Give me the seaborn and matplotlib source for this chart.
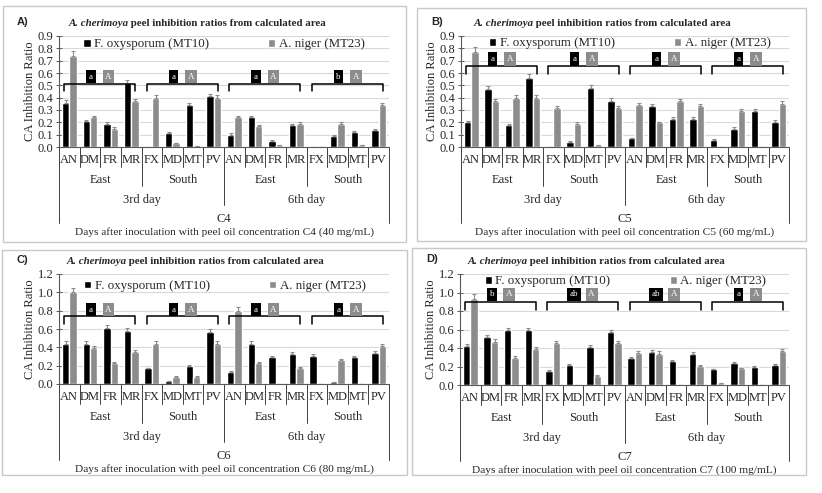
import numpy as np
import pandas as pd
import matplotlib
matplotlib.use("Agg")
import matplotlib.pyplot as plt
import seaborn as sns
from matplotlib.patches import Rectangle
from matplotlib.transforms import blended_transform_factory

sns.set_theme(style="white")
plt.rcParams['font.family'] = ['Liberation Serif', 'DejaVu Serif']

# categorie dell'asse x
sites = ["AN", "DM", "FR", "MR", "FX", "MD", "MT", "PV"] * 2
regions = ["East", "South", "East", "South"]
days = ["3rd day", "6th day"]
series = ["F. oxysporum (MT10)", "A. niger (MT23)"]

# C4 (40 mg/mL)
c4_fox = [0.36, 0.21, 0.19, 0.52, 0.00, 0.11, 0.34, 0.41, 0.10, 0.24, 0.05, 0.18, 0.00, 0.09, 0.12, 0.14]
c4_fox_err = [0.02, 0.01, 0.01, 0.025, 0.0, 0.01, 0.02, 0.02, 0.01, 0.015, 0.005, 0.01, 0.0, 0.01, 0.01, 0.01]
c4_ani = [0.74, 0.24, 0.15, 0.37, 0.40, 0.03, 0.01, 0.40, 0.24, 0.17, 0.015, 0.19, 0.00, 0.19, 0.015, 0.34]
c4_ani_err = [0.04, 0.015, 0.01, 0.02, 0.02, 0.005, 0.0, 0.02, 0.015, 0.01, 0.0, 0.01, 0.0, 0.01, 0.0, 0.02]
c4_fox_letters = ["a", "a", "a", "b"]
c4_ani_letters = ["A", "A", "A", "A"]

# C5 (60 mg/mL)
c5_fox = [0.20, 0.47, 0.18, 0.56, 0.00, 0.04, 0.48, 0.37, 0.07, 0.33, 0.23, 0.23, 0.06, 0.15, 0.29, 0.20]
c5_fox_err = [0.01, 0.025, 0.01, 0.03, 0.0, 0.005, 0.025, 0.025, 0.005, 0.015, 0.01, 0.015, 0.005, 0.01, 0.015, 0.015]
c5_ani = [0.77, 0.37, 0.40, 0.40, 0.32, 0.19, 0.015, 0.32, 0.34, 0.20, 0.37, 0.33, 0.00, 0.29, 0.00, 0.35]
c5_ani_err = [0.04, 0.02, 0.02, 0.02, 0.015, 0.01, 0.0, 0.015, 0.02, 0.005, 0.02, 0.02, 0.0, 0.015, 0.0, 0.02]
c5_fox_letters = ["a", "a", "a", "a"]
c5_ani_letters = ["A", "A", "A", "A"]

# C6 (80 mg/mL)
c6_fox = [0.44, 0.44, 0.61, 0.58, 0.17, 0.03, 0.20, 0.57, 0.13, 0.44, 0.29, 0.33, 0.31, 0.02, 0.29, 0.34]
c6_fox_err = [0.025, 0.025, 0.03, 0.03, 0.01, 0.005, 0.01, 0.03, 0.01, 0.025, 0.015, 0.015, 0.02, 0.0, 0.02, 0.02]
c6_ani = [1.00, 0.39, 0.23, 0.35, 0.44, 0.08, 0.08, 0.44, 0.80, 0.23, 0.00, 0.18, 0.00, 0.26, 0.005, 0.41]
c6_ani_err = [0.05, 0.025, 0.015, 0.02, 0.025, 0.005, 0.005, 0.025, 0.045, 0.01, 0.0, 0.01, 0.0, 0.01, 0.0, 0.025]
c6_fox_letters = ["a", "a", "a", "a"]
c6_ani_letters = ["A", "A", "A", "A"]

# C7 (100 mg/mL)
c7_fox = [0.42, 0.52, 0.59, 0.59, 0.15, 0.22, 0.41, 0.57, 0.29, 0.36, 0.26, 0.34, 0.17, 0.24, 0.20, 0.22]
c7_fox_err = [0.02, 0.025, 0.03, 0.03, 0.01, 0.01, 0.025, 0.03, 0.015, 0.02, 0.01, 0.015, 0.005, 0.01, 0.01, 0.01]
c7_ani = [0.93, 0.47, 0.29, 0.39, 0.45, 0.00, 0.10, 0.45, 0.35, 0.34, 0.00, 0.21, 0.02, 0.18, 0.00, 0.37]
c7_ani_err = [0.05, 0.03, 0.02, 0.02, 0.025, 0.0, 0.005, 0.025, 0.02, 0.025, 0.0, 0.01, 0.0, 0.005, 0.0, 0.02]
c7_fox_letters = ["b", "ab", "ab", "a"]
c7_ani_letters = ["A", "A", "A", "A"]

W, H = 822, 493
fig = plt.figure(figsize=(W / 100, H / 100), dpi=100)
fig.patch.set_facecolor("white")

BLACK = "#000000"
GREY = "#8c8c8c"

# layout in pixel: (label, conc, mg, box, axes, title center, legend anchor, ymax, step, bracket y, drop, letter y)
panels = [
    ("A)", "C4", "40", c4_fox, c4_fox_err, c4_ani, c4_ani_err, c4_fox_letters, c4_ani_letters,
     (3, 6, 406, 242), (59, 36, 389, 147), (197, 24), (0.50, 0.925), 0.9, 0.1, 0.51, 0.055, 0.57),
    ("B)", "C5", "60", c5_fox, c5_fox_err, c5_ani, c5_ani_err, c5_fox_letters, c5_ani_letters,
     (417, 8, 806, 241), (461, 36, 789, 147), (602, 24), (0.515, 0.935), 0.9, 0.1, 0.66, 0.07, 0.715),
    ("C)", "C6", "80", c6_fox, c6_fox_err, c6_ani, c6_ani_err, c6_fox_letters, c6_ani_letters,
     (2, 250, 407, 475), (59, 274, 389, 384), (195, 262), (0.503, 0.89), 1.2, 0.2, 0.745, 0.095, 0.81),
    ("D)", "C7", "100", c7_fox, c7_fox_err, c7_ani, c7_ani_err, c7_fox_letters, c7_ani_letters,
     (412, 248, 806, 475), (460, 274, 789, 385), (596, 261), (0.503, 0.935), 1.2, 0.2, 0.90, 0.09, 0.98),
]

renderer = fig.canvas.get_renderer()
FS = 8.5


def draw_title(cx, cy):
    y = 1 - cy / H
    t1 = fig.text(0, y, "A. cherimoya", fontsize=7.8, fontweight="bold", fontstyle="italic", va="center")
    t2 = fig.text(0, y, " peel inhibition ratios from calculated area", fontsize=7.8, fontweight="bold", va="center")
    w1 = t1.get_window_extent(renderer).width
    w2 = t2.get_window_extent(renderer).width
    x0 = cx - (w1 + w2) / 2
    t1.set_x(x0 / W)
    t2.set_x((x0 + w1) / W)


for (lab, conc, mg, fox, fox_err, ani, ani_err, fl, al, box, axr, tc, lg,
     ymax, step, by, drop, ly) in panels:
    # bordo del pannello
    fig.patches.append(Rectangle((box[0] / W, 1 - box[3] / H), (box[2] - box[0]) / W, (box[3] - box[1]) / H,
                                 transform=fig.transFigure, fill=False, ec="#c8c8c8", lw=1.0))
    l, t, r, b = axr
    ax = fig.add_axes([l / W, 1 - b / H, (r - l) / W, (b - t) / H])
    hpx = b - t

    keys = [f"k{i:02d}" for i in range(16)]
    df = pd.DataFrame({"key": keys * 2, "ratio": fox + ani,
                       "strain": [series[0]] * 16 + [series[1]] * 16})
    sns.barplot(data=df, x="key", y="ratio", hue="strain", order=keys, hue_order=series,
                palette=[BLACK, GREY], width=0.72, errorbar=None, saturation=1, ax=ax)

    for cont, err in zip(ax.containers, [fox_err, ani_err]):
        xs = [p.get_x() + p.get_width() / 2 for p in cont]
        ys = [p.get_height() for p in cont]
        ax.errorbar(xs, ys, yerr=[np.zeros(16), err], fmt="none", ecolor="#8c8c8c",
                    elinewidth=0.8, capsize=1.6, capthick=0.8)

    ax.set_xlim(-0.5, 15.5)
    ax.set_ylim(0, ymax)
    ticks = np.round(np.arange(0, ymax + 1e-9, step), 2)
    ax.set_yticks(ticks)
    ax.set_yticklabels([f"{v:.1f}" for v in ticks], fontsize=FS + 0.5)
    ax.set_xticks([])
    ax.set_xlabel("")
    ax.set_ylabel("CA Inhibition Ratio", fontsize=FS + 0.5, labelpad=1)
    ax.yaxis.grid(True, color="#d9d9d9", lw=0.8)
    ax.set_axisbelow(True)
    for s in ["top", "right"]:
        ax.spines[s].set_visible(False)
    for s in ["left", "bottom"]:
        ax.spines[s].set_color("#595959")
        ax.spines[s].set_linewidth(0.8)
    ax.tick_params(axis="y", direction="inout", length=4, width=0.7, color="#595959", pad=2, left=True)

    # legenda
    handles, labels = ax.get_legend_handles_labels()
    ax.legend(handles, labels, loc="center", bbox_to_anchor=lg, ncol=2, frameon=False,
              fontsize=9.3, handlelength=0.55, handleheight=0.55, handletextpad=0.25,
              columnspacing=4.6, borderaxespad=0)

    # parentesi e lettere
    for g in range(4):
        x0, x1 = 4 * g - 0.25, 4 * g + 3.2
        ax.plot([x0, x0, x1, x1], [by - drop, by, by, by - drop], color="black", lw=1.1, zorder=4)
        ax.text(4 * g + 1.05, ly, fl[g], color="white", fontsize=6.5, ha="center", va="center", zorder=5,
                bbox=dict(boxstyle="square,pad=0.3", fc=BLACK, ec="none"))
        ax.text(4 * g + 1.9, ly, al[g], color="white", fontsize=6.5, ha="center", va="center", zorder=5,
                bbox=dict(boxstyle="square,pad=0.3", fc=GREY, ec="none"))

    # asse x a più livelli
    tr = blended_transform_factory(ax.transData, ax.transAxes)

    def yf(px):
        return -px / hpx

    for i, s in enumerate(sites):
        ax.text(i, yf(13), s, transform=tr, ha="center", va="center", fontsize=FS + 0.5)
    for k in range(17):
        xb = k - 0.5
        if k in (0, 16):
            depth = 76
        elif k == 8:
            depth = 58
        elif k in (4, 12):
            depth = 39
        else:
            depth = 20
        ax.plot([xb, xb], [0, yf(depth)], transform=tr, clip_on=False, color="#404040", lw=0.7)
    for g, rg in enumerate(regions):
        ax.text(4 * g + 1.5, yf(33), rg, transform=tr, ha="center", va="center", fontsize=FS + 0.5)
    for d, dy in enumerate(days):
        ax.text(8 * d + 3.5, yf(53), dy, transform=tr, ha="center", va="center", fontsize=FS + 0.5)
    ax.text(7.5, yf(72), conc, transform=tr, ha="center", va="center", fontsize=FS + 0.5)
    ax.text(7.5, yf(85), f"Days after inoculation with peel oil concentration {conc} ({mg} mg/mL)",
            transform=tr, ha="center", va="center", fontsize=8.2)

    # etichetta pannello e titolo
    fig.text((box[0] + 14) / W, 1 - (tc[1] - 2) / H, lab, fontsize=8, fontweight="bold",
             family=["Liberation Sans", "DejaVu Sans"], va="center")
    draw_title(tc[0], tc[1])

fig.savefig("out.png", dpi=100)
